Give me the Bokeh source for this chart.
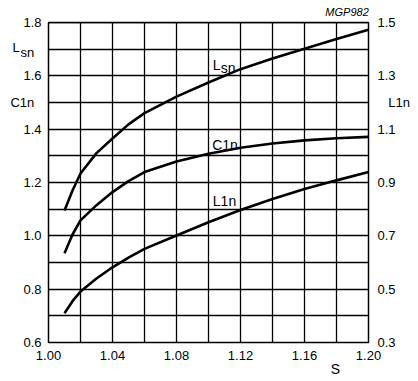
from bokeh.plotting import figure
from bokeh.models import Range1d, LinearAxis, FixedTicker, Label, AllLabels
from bokeh.embed import file_html
from bokeh.resources import INLINE

# Data
s_vals = [1.01, 1.015, 1.02, 1.03, 1.04, 1.05, 1.06, 1.08, 1.10, 1.12, 1.14, 1.16, 1.18, 1.20]
lsn = [1.095, 1.17, 1.234, 1.31, 1.365, 1.418, 1.460, 1.522, 1.575, 1.625, 1.665, 1.702, 1.738, 1.773]
c1n = [0.935, 1.005, 1.058, 1.115, 1.164, 1.205, 1.239, 1.279, 1.308, 1.330, 1.346, 1.358, 1.366, 1.371]
l1n = [0.410, 0.455, 0.491, 0.540, 0.582, 0.618, 0.651, 0.701, 0.751, 0.797, 0.838, 0.876, 0.908, 0.939]

x_ticks = [1.00, 1.04, 1.08, 1.12, 1.16, 1.20]
x_grid = [1.00 + 0.02 * i for i in range(11)]
left_ticks = [0.6, 0.8, 1.0, 1.2, 1.4, 1.6, 1.8]
y_grid = [0.6 + 0.1 * i for i in range(13)]
right_ticks = [0.3, 0.5, 0.7, 0.9, 1.1, 1.3, 1.5]

FONT = "Liberation Sans"
NB = "\u00a0"

p = figure(width=418, height=381, output_backend="svg", toolbar_location=None,
           x_range=Range1d(1.00, 1.20), y_range=Range1d(0.6, 1.8),
           min_border_left=48, min_border_right=50, min_border_top=22, min_border_bottom=39)
p.extra_y_ranges = {"right": Range1d(0.3, 1.5)}

p.background_fill_color = "white"
p.border_fill_color = "white"
p.outline_line_color = "black"
p.outline_line_width = 1.5


def style_axis(ax, size="13px", standoff=8, style="normal"):
    ax.major_tick_in = 0
    ax.major_tick_out = 0
    ax.minor_tick_in = 0
    ax.minor_tick_out = 0
    ax.axis_line_color = None
    ax.major_label_text_font = FONT
    ax.major_label_text_font_size = size
    ax.major_label_text_font_style = style
    ax.major_label_text_color = "black"
    ax.major_label_standoff = standoff
    ax.major_label_policy = AllLabels()


# bottom axis (S)
xb = p.xaxis[0]
style_axis(xb, standoff=8)
xb.ticker = FixedTicker(ticks=x_ticks)
xb.major_label_overrides = {t: f"{t:.2f}" for t in x_ticks}

# second bottom axis carrying the "S" axis name
s_pos = 1.1794
xs = LinearAxis(ticker=FixedTicker(ticks=[s_pos]))
style_axis(xs, size="14px", standoff=-2)
xs.major_label_overrides = {s_pos: "S"}
p.add_layout(xs, "below")

# top axis carrying the figure code
code_pos = 1.1866
xt = LinearAxis(ticker=FixedTicker(ticks=[code_pos]))
style_axis(xt, size="11px", standoff=5, style="italic")
xt.major_label_overrides = {code_pos: "MGP982"}
p.add_layout(xt, "above")

# left axis: values plus the names Lsn and C1n
yl = p.yaxis[0]
style_axis(yl, standoff=7)
l_pos, sn_pos, c_pos = 1.7074, 1.6875, 1.5
yl.ticker = FixedTicker(ticks=left_ticks + [l_pos, sn_pos, c_pos])
ov = {t: f"{t:.1f}" for t in left_ticks}
ov[l_pos] = "L" + NB * 6
ov[sn_pos] = "sn" + NB * 2
ov[c_pos] = "C1n" + NB * 2
yl.major_label_overrides = ov

# right axis: values plus the name L1n
r_name_pos = 1.2
rax = LinearAxis(y_range_name="right", ticker=FixedTicker(ticks=right_ticks + [r_name_pos]))
style_axis(rax, standoff=9)
rov = {t: f"{t:.1f}" for t in right_ticks}
rov[r_name_pos] = NB * 3 + "L1n"
rax.major_label_overrides = rov
p.add_layout(rax, "right")

# grid
p.xgrid.ticker = FixedTicker(ticks=x_grid)
p.ygrid.ticker = FixedTicker(ticks=y_grid)
for g in [p.xgrid[0], p.ygrid[0]]:
    g.grid_line_color = "black"
    g.grid_line_width = 1.3
    g.grid_line_alpha = 1.0

# curves
p.line(s_vals, lsn, line_color="black", line_width=2.6)
p.line(s_vals, c1n, line_color="black", line_width=2.6)
p.line(s_vals, l1n, y_range_name="right", line_color="black", line_width=2.6)


def lab(x, y, t, size="14px"):
    p.add_layout(Label(x=x, y=y, text=t, text_font=FONT, text_font_size=size,
                       text_color="black", text_align="left", text_baseline="alphabetic"))


# in-plot curve labels
lab(1.1027, 1.6414, "L")
lab(1.1076, 1.6286, "sn")
lab(1.1023, 1.3414, "C1n")
lab(1.1027, 1.1325, "L1n")

open("out.html", "w").write(file_html(p, INLINE))
